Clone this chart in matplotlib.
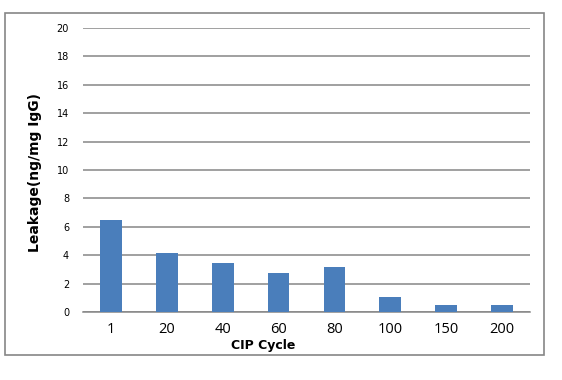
from matplotlib import pyplot as plt
from matplotlib.patches import Rectangle

cycles = ["1", "20", "40", "60", "80", "100", "150", "200"]
leakage = [6.5, 4.15, 3.45, 2.75, 3.2, 1.05, 0.5, 0.5]

fig = plt.figure(figsize=(5.62, 3.80), dpi=100)
# outer chart frame
fig.patches.append(Rectangle((5/562, 1 - 355/380), 539/562, 342/380,
                             transform=fig.transFigure, fill=False,
                             edgecolor="#868686", linewidth=1.2))

ax = fig.add_axes([83/562, 68/380, 447/562, 284/380])
x = range(len(cycles))
ax.bar(x, leakage, width=0.39, color="#4a7ebb", zorder=3)

ax.set_xlim(-0.5, len(cycles) - 0.5)
ax.set_ylim(0, 20)
ax.set_yticks(range(0, 21, 2))
ax.yaxis.grid(True, color="#868686", linewidth=1.1)
ax.set_axisbelow(True)
for s in ["top", "right", "left"]:
    ax.spines[s].set_visible(False)
ax.spines["bottom"].set_color("#868686")
ax.spines["bottom"].set_linewidth(1.1)
ax.tick_params(length=0)
ax.tick_params(axis="y", labelsize=7, pad=10)
ax.set_xticks(list(x))
ax.set_xticklabels(cycles, fontsize=10.5, family="Open Sans")
ax.tick_params(axis="x", pad=7)

ax.set_xlabel("CIP Cycle", fontsize=9, fontweight="bold")
ax.xaxis.set_label_coords((263 - 83) / 447, -27 / 284)
ax.set_ylabel("Leakage(ng/mg IgG)", fontsize=10, fontweight="bold")
ax.yaxis.set_label_coords(-41 / 447, 0.49)

plt.savefig("out.png", dpi=100)
